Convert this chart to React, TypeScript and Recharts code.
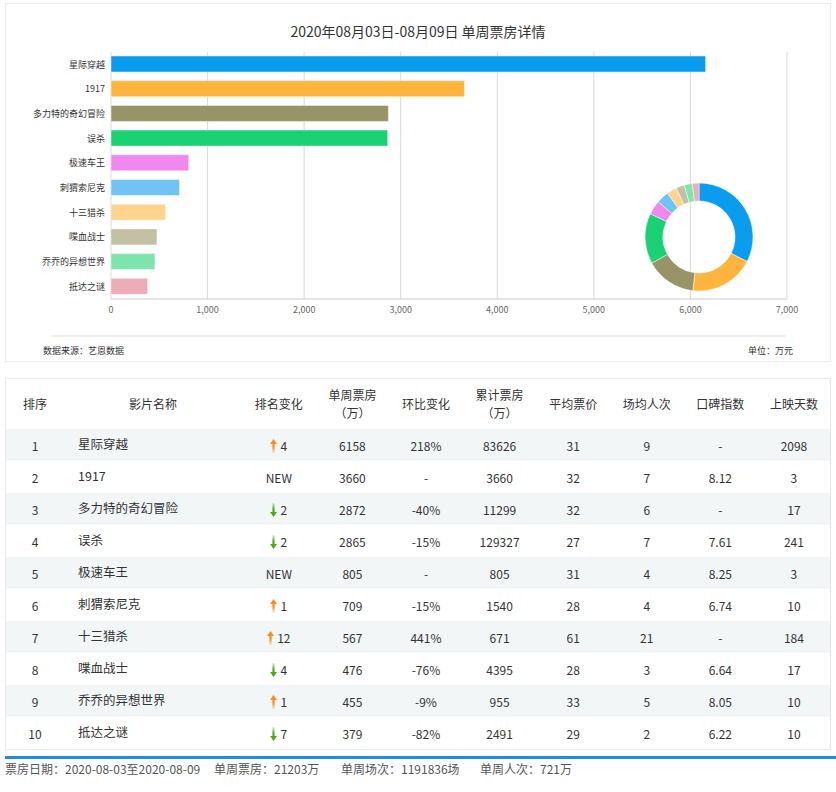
import { Bar, BarChart, CartesianGrid, Cell, Pie, PieChart, XAxis, YAxis } from "recharts";

const FONT = '"Microsoft YaHei", "Noto Sans CJK SC", sans-serif';

// film list, in rank order
const films = [
  "星际穿越",
  "1917",
  "多力特的奇幻冒险",
  "误杀",
  "极速车王",
  "刺猬索尼克",
  "十三猎杀",
  "喋血战士",
  "乔乔的异想世界",
  "抵达之谜",
];
const weekBox = [6158, 3660, 2872, 2865, 805, 709, 567, 476, 455, 379];
const rankMove = ["up", "new", "down", "down", "new", "up", "up", "down", "up", "down"];
const rankStep = [4, 0, 2, 2, 0, 1, 12, 4, 1, 7];
const weekRatio = ["218%", "-", "-40%", "-15%", "-", "-15%", "441%", "-76%", "-9%", "-82%"];
const totalBox = [83626, 3660, 11299, 129327, 805, 1540, 671, 4395, 955, 2491];
const avgPrice = [31, 32, 32, 27, 31, 28, 61, 28, 33, 29];
const avgPeople = [9, 7, 6, 7, 4, 4, 21, 3, 5, 2];
const score = ["-", "8.12", "-", "7.61", "8.25", "6.74", "-", "6.64", "8.05", "6.22"];
const days = [2098, 3, 17, 241, 3, 10, 184, 17, 10, 10];
const xTicks = [0, 1000, 2000, 3000, 4000, 5000, 6000, 7000];

const COLORS = [
  "#0a9cef", // blue
  "#ffb53d", // orange
  "#999467", // olive
  "#1ad274", // green
  "#f088ee", // pink
  "#70c3f5", // light blue
  "#ffd48e", // light orange
  "#c3c0a3", // khaki
  "#7de5ab", // mint
  "#eeabb8", // rose
];

const headers = ["排序", "影片名称", "排名变化", "单周票房\n（万）", "环比变化", "累计票房\n（万）", "平均票价", "场均人次", "口碑指数", "上映天数"];
const colWidths = [58, 178, 73.6, 73.6, 73.6, 73.6, 73.6, 73.6, 73.6, 73.6];

const chartData = films.map((name, i) => ({ name, value: weekBox[i] }));

function Arrow({ dir, id }: { dir: string; id: string }) {
  const color = dir === "up" ? "#ff8a14" : "#4fa81e";
  const up = dir === "up";
  return (
    <svg width="7" height="14" style={{ verticalAlign: "-2px", marginRight: 3 }}>
      <defs>
        <linearGradient id={id} x1="0" y1={up ? "0" : "1"} x2="0" y2={up ? "1" : "0"}>
          <stop offset="0%" stopColor={color} />
          <stop offset="55%" stopColor={color} />
          <stop offset="100%" stopColor={color} stopOpacity={0.15} />
        </linearGradient>
      </defs>
      <path
        d={up ? "M3.5 0 L7 5 L4.6 5 L4.6 14 L2.4 14 L2.4 5 L0 5 Z" : "M3.5 14 L7 9 L4.6 9 L4.6 0 L2.4 0 L2.4 9 L0 9 Z"}
        fill={`url(#${id})`}
      />
    </svg>
  );
}

export default function App() {
  const rows = films.map((name, i) => [
    String(i + 1),
    name,
    rankMove[i] === "new" ? (
      "NEW"
    ) : (
      <span>
        <Arrow dir={rankMove[i]} id={`arr-${i}`} />
        {rankStep[i]}
      </span>
    ),
    String(weekBox[i]),
    weekRatio[i],
    String(totalBox[i]),
    String(avgPrice[i]),
    String(avgPeople[i]),
    score[i],
    String(days[i]),
  ]);

  return (
    <div style={{ position: "absolute", left: 0, top: 0, width: 836, height: 792, fontFamily: FONT, background: "#fff" }}>
      {/* chart panel */}
      <div
        style={{
          position: "absolute",
          left: 5,
          top: 3,
          width: 826,
          height: 359,
          border: "1px solid #ececec",
          boxSizing: "border-box",
        }}
      />
      <div style={{ position: "absolute", left: 0, top: 21, width: 836, textAlign: "center", fontSize: 14, color: "#333" }}>
        2020年08月03日-08月09日 单周票房详情
      </div>

      <div style={{ position: "absolute", left: 0, top: 0 }}>
        <BarChart
          width={836}
          height={362}
          layout="vertical"
          data={chartData}
          margin={{ top: 52, right: 49, bottom: 33, left: 0 }}
          barSize={16}
        >
          <CartesianGrid horizontal={false} stroke="#d9d9d9" />
          <XAxis
            type="number"
            domain={[0, 7000]}
            ticks={xTicks}
            tickFormatter={(v: number) => v.toLocaleString("en-US")}
            tick={{ fontSize: 9, fill: "#666", fontFamily: FONT }}
            tickLine={false}
            tickSize={0}
            tickMargin={8}
            axisLine={{ stroke: "#cccccc" }}
            height={30}
          />
          <XAxis
            xAxisId="top"
            orientation="top"
            type="number"
            domain={[0, 7000]}
            tick={false}
            tickLine={false}
            axisLine={{ stroke: "#e6e6e6" }}
            height={0}
          />
          <YAxis
            type="category"
            dataKey="name"
            width={111}
            tick={{ fontSize: 9, fill: "#333", fontFamily: FONT }}
            tickLine={false}
            tickSize={0}
            tickMargin={6}
            axisLine={false}
            interval={0}
          />
          <Bar dataKey="value" isAnimationActive={false} stroke="#ffffff" strokeOpacity={0.45} strokeWidth={1}>
            {chartData.map((entry, index) => (
              <Cell key={`bar-${index}`} fill={COLORS[index % COLORS.length]} />
            ))}
          </Bar>
        </BarChart>
      </div>

      {/* donut overlay */}
      <div style={{ position: "absolute", left: 639, top: 177 }}>
        <PieChart width={120} height={120} margin={{ top: 0, right: 0, bottom: 0, left: 0 }}>
          <Pie
            data={chartData}
            dataKey="value"
            cx={60}
            cy={60}
            innerRadius={36}
            outerRadius={54}
            startAngle={90}
            endAngle={-270}
            stroke="#ffffff"
            strokeWidth={0.5}
            isAnimationActive={false}
          >
            {chartData.map((entry, index) => (
              <Cell key={`slice-${index}`} fill={COLORS[index % COLORS.length]} />
            ))}
          </Pie>
        </PieChart>
      </div>

      <div style={{ position: "absolute", left: 51, top: 335, width: 735, height: 2, background: "#f0f0f0" }} />
      <div style={{ position: "absolute", left: 43, top: 344, fontSize: 9, color: "#333" }}>数据来源：艺恩数据</div>
      <div style={{ position: "absolute", right: 836 - 793, top: 344, fontSize: 9, color: "#333" }}>单位：万元</div>

      {/* table */}
      <div
        style={{
          position: "absolute",
          left: 5,
          top: 378,
          width: 826,
          border: "1px solid #ececec",
          borderRight: "1px solid #e4e4e4",
          boxSizing: "border-box",
          fontSize: 12,
          color: "#333",
        }}
      >
        <div style={{ display: "flex", height: 50, alignItems: "center" }}>
          {headers.map((h, c) => (
            <div
              key={`h-${c}`}
              style={
                {
                  width: colWidths[c],
                  flexShrink: 0,
                  textAlign: "center",
                  whiteSpace: "pre",
                  lineHeight: "18px",
                  fontSize: 12,
                  textSpacingTrim: "space-all",
                } as any
              }
            >
              {h}
            </div>
          ))}
        </div>
        {rows.map((row, r) => (
          <div
            key={`r-${r}`}
            style={{ display: "flex", height: 32, alignItems: "center", background: r % 2 === 0 ? "#f3f6f7" : "#ffffff" }}
          >
            {row.map((cell, c) => (
              <div
                key={`c-${r}-${c}`}
                style={{
                  width: colWidths[c],
                  flexShrink: 0,
                  textAlign: c === 1 ? "left" : "center",
                  paddingLeft: c === 1 ? 14 : 0,
                  boxSizing: "border-box",
                  fontSize: c === 1 ? 12.5 : 12,
                  marginTop: c === 1 ? -3 : 0,
                }}
              >
                {cell}
              </div>
            ))}
          </div>
        ))}
      </div>

      {/* footer */}
      <div style={{ position: "absolute", left: 5, top: 756, width: 831, height: 3, background: "#1a8fe3" }} />
      <div style={{ position: "absolute", top: 760, left: 5, fontSize: 12, color: "#555", whiteSpace: "nowrap" }}>
        票房日期：2020-08-03至2020-08-09
      </div>
      <div style={{ position: "absolute", top: 760, left: 214, fontSize: 12, color: "#555", whiteSpace: "nowrap" }}>
        单周票房：21203万
      </div>
      <div style={{ position: "absolute", top: 760, left: 341, fontSize: 12, color: "#555", whiteSpace: "nowrap" }}>
        单周场次：1191836场
      </div>
      <div style={{ position: "absolute", top: 760, left: 480, fontSize: 12, color: "#555", whiteSpace: "nowrap" }}>
        单周人次：721万
      </div>
    </div>
  );
}
